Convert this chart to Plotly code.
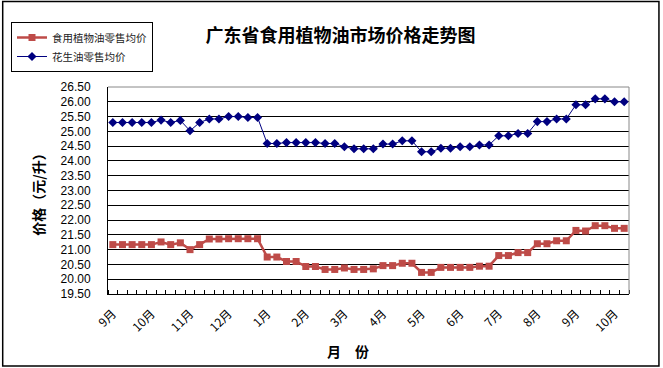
import plotly.graph_objects as go

month_labels = ["9月", "10月", "11月", "12月", "1月", "2月", "3月", "4月",
                "5月", "6月", "7月", "8月", "9月", "10月"]

edible_oil = [21.17, 21.17, 21.17, 21.17, 21.17, 21.26, 21.17, 21.23, 21.00, 21.17,
              21.36, 21.36, 21.37, 21.37, 21.37, 21.37, 20.75, 20.75, 20.60, 20.60,
              20.43, 20.43, 20.33, 20.33, 20.38, 20.33, 20.33, 20.35, 20.46, 20.46,
              20.54, 20.54, 20.23, 20.23, 20.40, 20.40, 20.40, 20.40, 20.44, 20.44,
              20.80, 20.80, 20.90, 20.90, 21.20, 21.20, 21.30, 21.30, 21.65, 21.63,
              21.81, 21.81, 21.72, 21.72]

peanut_oil = [25.30, 25.30, 25.30, 25.30, 25.30, 25.38, 25.30, 25.37, 25.02, 25.30,
              25.42, 25.42, 25.50, 25.50, 25.47, 25.47, 24.59, 24.59, 24.62, 24.62,
              24.62, 24.62, 24.59, 24.59, 24.48, 24.41, 24.41, 24.41, 24.57, 24.57,
              24.68, 24.68, 24.31, 24.31, 24.43, 24.43, 24.48, 24.48, 24.54, 24.54,
              24.85, 24.85, 24.93, 24.93, 25.33, 25.33, 25.42, 25.42, 25.90, 25.90,
              26.10, 26.10, 26.00, 26.00]

series_names = ["食用植物油零售均价", "花生油零售均价"]

n = len(edible_oil)
xs = list(range(n))
label_pos = list(range(0, n, 4))[:len(month_labels)]

FONT = "Noto Sans CJK SC"
NUMFONT = "Liberation Sans"

fig = go.Figure()
fig.add_trace(go.Scatter(
    x=xs, y=edible_oil, name=series_names[0], mode="lines+markers",
    line=dict(color="#BE4B48", width=2.5),
    marker=dict(symbol="square", size=7, color="#BE4B48"),
))
fig.add_trace(go.Scatter(
    x=xs, y=peanut_oil, name=series_names[1], mode="lines+markers",
    line=dict(color="#000080", width=1),
    marker=dict(symbol="diamond", size=7, color="#000080"),
))

L, R, T, B = 107, 34, 87, 74
W, H = 663, 368
pw = W - L - R
ph = H - T - B

fig.update_layout(
    width=W, height=H,
    margin=dict(l=L, r=R, t=T, b=B),
    paper_bgcolor="white", plot_bgcolor="white",
    font=dict(family=FONT, size=12, color="black"),
    title=dict(text="<b>广东省食用植物油市场价格走势图</b>",
               x=340.5 / W, xref="container", xanchor="center",
               y=1 - 36 / H, yref="container", yanchor="middle",
               font=dict(size=18, family=FONT, color="black")),
    showlegend=True,
    legend=dict(x=(11 - L) / pw, y=(H - B - 22) / ph, xanchor="left", yanchor="top",
                bordercolor="black", borderwidth=1, bgcolor="white",
                font=dict(size=10.5, family=FONT, color="#222222"),
                tracegroupgap=0, itemwidth=30),
    xaxis=dict(
        range=[-0.5, n - 0.5],
        tickmode="array", tickvals=label_pos, ticktext=month_labels,
        tickangle=-45, ticks="", showgrid=False, zeroline=False,
        showline=True, linecolor="black", linewidth=1,
        tickfont=dict(size=12, family=FONT),
        ticklabelstandoff=7,
        minor=dict(tickmode="array", tickvals=[i - 0.5 for i in range(n + 1)],
                   ticks="inside", ticklen=4, tickcolor="black", showgrid=False),
    ),
    yaxis=dict(
        range=[19.5, 26.5], tick0=19.5, dtick=0.5, tickformat=".2f",
        showgrid=True, gridcolor="black", gridwidth=1, zeroline=False,
        showline=True, linecolor="black", linewidth=1, ticks="",
        tickfont=dict(size=12, family=NUMFONT),
        ticklabelstandoff=14,
    ),
    shapes=[
        dict(type="line", xref="paper", yref="paper", x0=0, x1=1, y0=1, y1=1,
             line=dict(color="#888888", width=1), layer="above"),
        dict(type="line", xref="paper", yref="paper", x0=1, x1=1, y0=0, y1=1,
             line=dict(color="#888888", width=1), layer="above"),
        dict(type="rect", xref="paper", yref="paper",
             x0=(1.5 - L) / pw, x1=(659 - L) / pw,
             y0=(H - B - 366) / ph, y1=(H - B - 1.5) / ph,
             line=dict(color="black", width=1.5), fillcolor="rgba(0,0,0,0)"),
    ],
    annotations=[
        dict(text="<b>价格（元/升）</b>", xref="paper", yref="paper",
             x=(36.5 - L) / pw, y=(H - B - 191) / ph, textangle=-90,
             showarrow=False, font=dict(size=14, family=FONT, color="black"),
             xanchor="center", yanchor="middle"),
        dict(text="<b>月　份</b>", xref="paper", yref="paper",
             x=(347 - L) / pw, y=(H - B - 351) / ph,
             showarrow=False, font=dict(size=14, family=FONT, color="black"),
             xanchor="center", yanchor="middle"),
    ],
)

fig.write_html("out.html", config={"displayModeBar": False},
               post_script="document.body.style.margin='0';document.body.style.overflow='hidden';")
